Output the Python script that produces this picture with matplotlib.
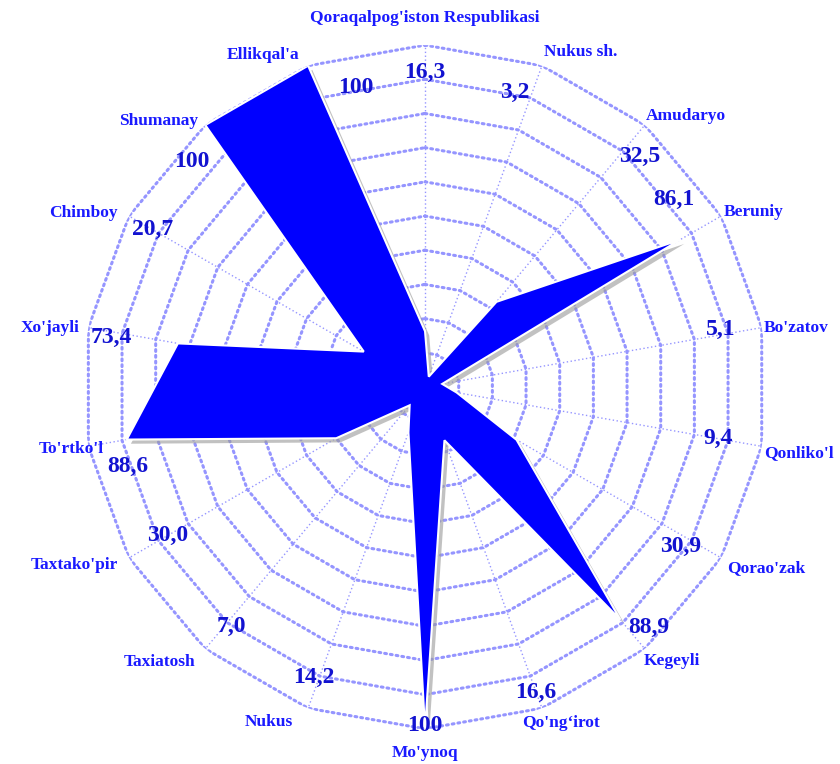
import numpy as np
import matplotlib
matplotlib.use("Agg")
import matplotlib.pyplot as plt
import matplotlib.patheffects as pe

# Data
regions = ["Qoraqalpog'iston Respublikasi", "Nukus sh.", "Amudaryo", "Beruniy",
           "Bo'zatov", "Qonliko'l", "Qorao'zak", "Kegeyli", "Qo'ng\u2018irot",
           "Mo'ynoq", "Nukus", "Taxiatosh", "Taxtako'pir", "To'rtko'l",
           "Xo'jayli", "Chimboy", "Shumanay", "Ellikqal'a"]
values = [16.3, 3.2, 32.5, 86.1, 5.1, 9.4, 30.9, 88.9, 16.6,
          100, 14.2, 7.0, 30.0, 88.6, 73.4, 20.7, 100, 100]
value_text = ["16,3", "3,2", "32,5", "86,1", "5,1", "9,4", "30,9", "88,9", "16,6",
              "100", "14,2", "7,0", "30,0", "88,6", "73,4", "20,7", "100", "100"]

n = len(regions)
angles = np.arange(n) * 2 * np.pi / n
grid_col = "#9595ff"

fig = plt.figure(figsize=(8.4, 7.64), dpi=100)
ax = fig.add_axes([0.099, 0.046, 0.814, 0.895], polar=True)
ax.set_theta_zero_location("N")
ax.set_theta_direction(-1)
ax.set_ylim(0, 100)
ax.axis("off")

# polygon rings and spokes
closed = np.append(angles, angles[0])
for r in range(10, 101, 10):
    ax.plot(closed, [r] * (n + 1), color=grid_col, lw=2.2, ls=(0, (0.6, 1.3)),
            dash_capstyle="round", zorder=1)
for a in angles:
    ax.plot([a, a], [0, 100], color=grid_col, lw=1.0, ls=(0, (1, 1.8)), zorder=1)

# filled series with shadow
vals = np.append(values, values[0])
ax.fill(closed, vals, color="#0000ff", edgecolor="white", lw=1.5, zorder=3,
        path_effects=[pe.SimplePatchShadow(offset=(3, -3), shadow_rgbFace="#999999", alpha=0.6),
                      pe.Normal()])

# value labels
label_r = [92, 90, 92, 91, 88, 87, 88, 96, 95, 99, 91, 90, 87, 90, 93, 92, 95, 90]
label_da = [0, -3, 3, -7, -1, 0, 2, -3, 0, 0, 1, -1, 0, -5, -1, 0, -6, 7]
for a, r, da, t in zip(angles, label_r, label_da, value_text):
    ax.text(a + np.radians(da), r, t, ha="center", va="center", fontsize=17,
            fontweight="bold", family="Liberation Serif", color="#1212d0", zorder=5)

# category labels
cat_r = [108, 108, 110, 109, 110, 111, 113, 108, 106, 107, 108, 112, 115, 105, 111, 112, 110, 108]
cat_da = [0, 5, 4, 2, 1, 0, -2, -2, -2, 0, 5, 4, 3, 0, -1, -3, -5, -6]
for a, r, da, t in zip(angles, cat_r, cat_da, regions):
    ax.text(a + np.radians(da), r, t, ha="center", va="center", fontsize=12.5,
            fontweight="bold", family="Liberation Serif", color="#1a1aff", zorder=5)

fig.savefig("out.png", dpi=100, facecolor="white")
